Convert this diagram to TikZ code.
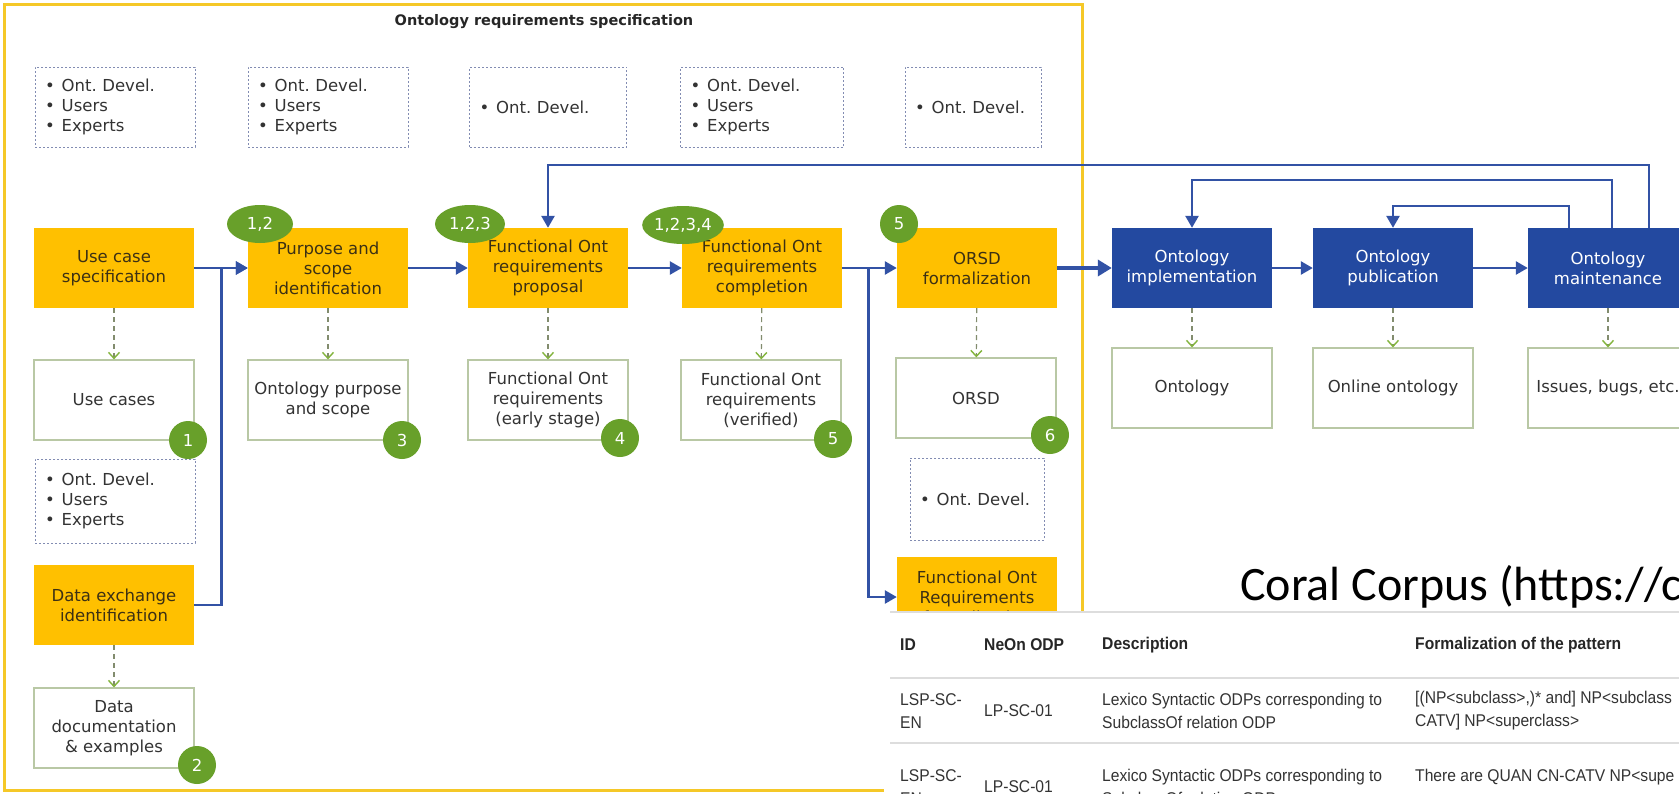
\documentclass[tikz,border=0pt]{standalone}
\usepackage{fontspec}
\setmainfont{DejaVu Sans}
\newfontfamily\tablefont[FakeStretch=0.92]{Liberation Sans}
\newfontfamily\slidefont{Carlito}
\usetikzlibrary{arrows.meta,shapes.geometric}

\definecolor{procyellow}{RGB}{255,192,0}
\definecolor{proctext}{RGB}{60,48,20}
\definecolor{procblue}{RGB}{35,73,160}
\definecolor{flowblue}{RGB}{50,82,165}
\definecolor{badgegreen}{RGB}{104,160,42}
\definecolor{outline}{RGB}{185,200,165}
\definecolor{actorline}{RGB}{130,140,178}
\definecolor{framegold}{RGB}{245,200,40}
\definecolor{txt}{RGB}{51,51,51}
\definecolor{rulegray}{RGB}{221,221,221}
\definecolor{arrowgreen}{RGB}{130,180,60}
\definecolor{dashgray}{RGB}{130,140,110}

\newcommand\bulitem{\textbullet\hspace{7pt}}

\begin{document}
\begin{tikzpicture}[x=1pt,y=-1pt,
  every node/.style={font=\fontsize{16.5}{20}\selectfont, text=txt},
  procbox/.style={rectangle, fill=procyellow, minimum width=160pt, minimum height=80pt,
    align=center, inner sep=2pt, text=proctext},
  bluebox/.style={rectangle, fill=procblue, minimum width=160pt, minimum height=80pt,
    align=center, inner sep=2pt, text=white},
  outbox/.style={rectangle, draw=outline, line width=1.2pt, fill=white,
    minimum width=160pt, minimum height=80pt, align=center, inner sep=1pt},
  actor/.style={rectangle, draw=actorline, line width=1pt, dash pattern=on 2pt off 2pt,
    minimum height=80pt, text width=#1, align=left, inner xsep=10pt, fill=white},
  badge/.style={ellipse, fill=badgegreen, text=white, inner sep=0pt,
    minimum width=#1, minimum height=38pt},
  flow/.style={draw=flowblue, line width=2.6pt, line join=miter,
    -{Triangle[length=12pt,width=13pt]}},
  yields/.style={draw=dashgray, line width=1.2pt, dash pattern=on 5pt off 4pt,
    -{Straight Barb[length=6pt,width=11pt,color=arrowgreen,line width=1.4pt]}},
  tabtext/.style={font=\tablefont\fontsize{17}{23}\selectfont, text=black!80,
    anchor=west, align=left, inner sep=0pt},
  tabhead/.style={font=\tablefont\bfseries\fontsize{17}{23}\selectfont, text=black!85,
    anchor=west, inner sep=0pt},
]
\useasboundingbox (0,0) rectangle (1679,793);
\clip (0,0) rectangle (1679,793);
\fill[white] (0,0) rectangle (1679,793);

% requirements specification frame
\draw[framegold, line width=3pt] (4,4) rectangle (1082,790);
\node[font=\bfseries\fontsize{14.5}{18}\selectfont, text=black!85] (title) at (544,22)
  {Ontology requirements specification};

% actors of each activity
\node[actor=140pt] (a1) at (115,107) {\bulitem Ont.\ Devel.\\\bulitem Users\\\bulitem Experts};
\node[actor=140pt] (a2) at (328,107) {\bulitem Ont.\ Devel.\\\bulitem Users\\\bulitem Experts};
\node[actor=137pt] (a3) at (548,107) {\bulitem Ont.\ Devel.};
\node[actor=143pt] (a4) at (762,107) {\bulitem Ont.\ Devel.\\\bulitem Users\\\bulitem Experts};
\node[actor=116pt] (a5) at (973,107) {\bulitem Ont.\ Devel.};
\node[actor=140pt, minimum height=84pt] (a6) at (115,501) {\bulitem Ont.\ Devel.\\\bulitem Users\\\bulitem Experts};
\node[actor=114pt, minimum height=82pt] (a7) at (977,499) {\bulitem Ont.\ Devel.};

% activities
\node[procbox] (uc)   at (114,268) {Use case\\specification};
\node[procbox] (ps)   at (328,268) {Purpose and\\scope\\identification};
\node[procbox] (frp)  at (548,268) {Functional Ont\\requirements\\proposal};
\node[procbox] (frc)  at (762,268) {Functional Ont\\requirements\\completion};
\node[procbox] (orsd) at (977,268) {ORSD\\formalization};
\node[procbox] (dx)   at (114,605) {Data exchange\\identification};
\node[procbox] (for)  at (977,597) {Functional Ont\\Requirements\\formalization};
\node[bluebox] (impl)  at (1192,268) {Ontology\\implementation};
\node[bluebox] (pub)   at (1393,268) {Ontology\\publication};
\node[bluebox] (maint) at (1608,268) {Ontology\\maintenance};

% outputs
\node[outbox] (ouc)   at (114,400) {Use cases};
\node[outbox] (ops)   at (328,400) {Ontology purpose\\and scope};
\node[outbox] (ofrp)  at (548,400) {Functional Ont\\requirements\\(early stage)};
\node[outbox] (ofrc)  at (761,400) {Functional Ont\\requirements\\(verified)};
\node[outbox] (oorsd) at (976,398) {ORSD};
\node[outbox] (odx)   at (114,728) {Data\\documentation\\\& examples};
\node[outbox] (oimpl)  at (1192,388) {Ontology};
\node[outbox] (opub)   at (1393,388) {Online ontology};
\node[outbox] (omaint) at (1608,388) {Issues, bugs, etc.};

% activity produces output
\draw[yields] (uc) -- (ouc);
\draw[yields] (ps) -- (ops);
\draw[yields] (frp) -- (ofrp);
\draw[yields] (frc) -- (ofrc);
\draw[yields] (orsd) -- (oorsd);
\draw[yields] (dx) -- (odx);
\draw[yields] (impl) -- (oimpl);
\draw[yields] (pub) -- (opub);
\draw[yields] (maint) -- (omaint);

% workflow
\draw[flow] (uc.east) -- (ps.west);
\draw[flow] (dx.east) -- ++(27,0) |- (ps.west);
\draw[flow] (ps.east) -- (frp.west);
\draw[flow] (frp.east) -- (frc.west);
\draw[flow] (frc.east) -- (orsd.west);
\draw[flow] (frc.east) -- ++(26,0) |- (for.west);
\draw[flow, line width=4pt, -{Triangle[length=14pt,width=16pt]}] (orsd.east) -- (impl.west);
\draw[flow] (impl.east) -- (pub.west);
\draw[flow] (pub.east) -- (maint.west);

% feedback from maintenance
\draw[flow] ([xshift=121pt]maint.north west) |- ([yshift=63pt]frp.north) -- (frp.north);
\draw[flow] ([xshift=84pt]maint.north west) |- ([yshift=48pt]impl.north) -- (impl.north);
\draw[flow] ([xshift=41pt]maint.north west) |- ([yshift=22pt]pub.north) -- (pub.north);

% inputs and outputs numbering
\node[badge=66pt] (b12)   at (260,224) {1,2};
\node[badge=70pt] (b123)  at (470,224) {1,2,3};
\node[badge=78pt] (b1234) at (683,225) {1,2,3,4};
\node[badge=38pt] (bin5)  at (899,224) {5};
\node[badge=38pt] (bo1) at (188,440) {1};
\node[badge=38pt] (bo3) at (402,440) {3};
\node[badge=38pt] (bo4) at (620,438) {4};
\node[badge=38pt] (bo5) at (833,439) {5};
\node[badge=38pt] (bo6) at (1050,435) {6};
\node[badge=38pt] (bo2) at (197,765) {2};

% corpus reference
\node[font=\slidefont\fontsize{48}{58}\selectfont, text=black, anchor=base west, inner sep=0pt]
  (coral) at (1240,600) {Coral Corpus (https://c};

% pattern table
\fill[white] (884,612) rectangle (1690,800);
\draw[rulegray, line width=1.5pt] (890,612) -- (1690,612);
\draw[rulegray, line width=2pt] (890,678) -- (1690,678);
\draw[rulegray, line width=2pt] (890,743) -- (1690,743);

\node[tabhead] (hid)   at (900,645)  {ID};
\node[tabhead] (hneon) at (984,645)  {NeOn ODP};
\node[tabhead] (hdesc) at (1102,645) {Description};
\node[tabhead] (hform) at (1415,645) {Formalization of the pattern};

\node[tabtext] (r1id)   at (900,711)  {LSP-SC-\\EN};
\node[tabtext] (r1neon) at (984,711)  {LP-SC-01};
\node[tabtext] (r1desc) at (1102,711) {Lexico Syntactic ODPs corresponding to\\SubclassOf relation ODP};
\node[tabtext] (r1form) at (1415,711) {[(NP<subclass>,)* and] NP<subclass\\CATV] NP<superclass>};

\node[tabtext] (r2id)   at (900,787)  {LSP-SC-\\EN};
\node[tabtext] (r2neon) at (984,787)  {LP-SC-01};
\node[tabtext] (r2desc) at (1102,787) {Lexico Syntactic ODPs corresponding to\\SubclassOf relation ODP};
\node[tabtext, anchor=base west] (r2form) at (1415,781) {There are QUAN CN-CATV NP<supe};
\end{tikzpicture}
\end{document}
